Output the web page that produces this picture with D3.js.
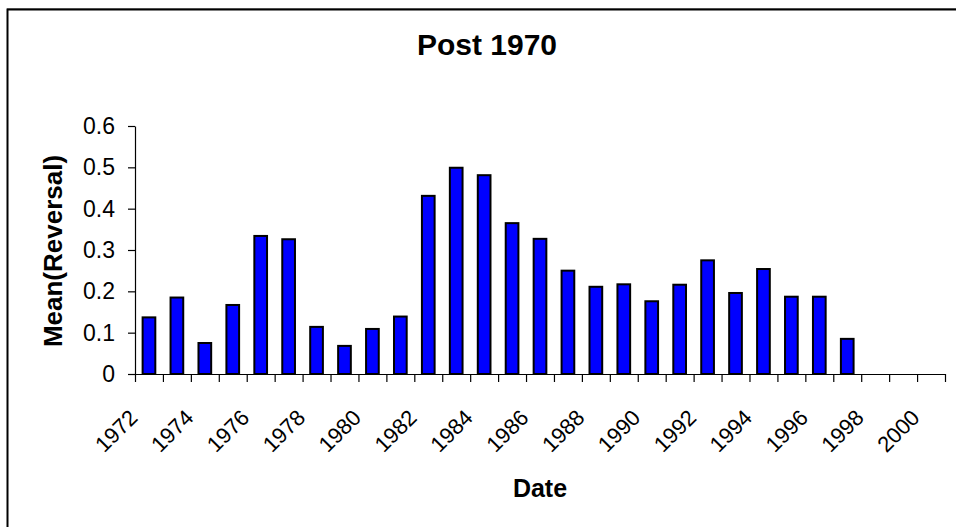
<!DOCTYPE html>
<html>
<head>
<meta charset="utf-8">
<script src="https://cdn.jsdelivr.net/npm/d3@7.9.0/dist/d3.min.js"></script>
<style>
  body { margin: 0; background: #fff; }
  svg { display: block; font-family: "Liberation Sans", Arial, sans-serif; }
</style>
</head>
<body>
<svg width="956" height="527"></svg>
<script>
// categories on the x axis (1998-2000 have no bar)
const years = d3.range(1972, 2001);
// mean reversal per year
const reversal = [
  0.137, 0.185, 0.075, 0.167, 0.334, 0.326, 0.114, 0.068, 0.109, 0.139,
  0.431, 0.499, 0.481, 0.365, 0.327, 0.250, 0.211, 0.217, 0.176, 0.216,
  0.275, 0.196, 0.254, 0.187, 0.187, 0.085, null, null, null
];
const yTicks = [0, 0.1, 0.2, 0.3, 0.4, 0.5, 0.6];
const labelYears = years.filter((y) => (y - 1972) % 2 === 0);

const svg = d3.select('svg');
const plotLeft = 135, plotRight = 945, plotTop = 126, plotBottom = 374;

// chart frame
svg.append('line').attr('x1', 7).attr('x2', 956).attr('y1', 8.5).attr('y2', 8.5)
  .attr('stroke', '#999').attr('stroke-width', 1);
svg.append('rect')
  .attr('x', 7.5).attr('y', 9.5).attr('width', 1000).attr('height', 600)
  .attr('fill', 'none').attr('stroke', '#000').attr('stroke-width', 2);

let x = d3.scaleBand().domain(years).range([plotLeft, plotRight])
  .paddingInner(0.5454).paddingOuter(0.2727);
let y = d3.scaleLinear().domain([0, 0.6]).range([plotBottom, plotTop]);
// index scale for the tick marks between categories
let xEdge = d3.scaleLinear().domain([0, years.length]).range([plotLeft, plotRight]);

// bars
const data = years.map((yr, i) => ({ year: yr, value: reversal[i] }))
  .filter((d) => d.value !== null);
svg.append('g')
  .selectAll('rect')
  .data(data)
  .join('rect')
  .attr('x', (d) => x(d.year))
  .attr('y', (d) => y(d.value))
  .attr('width', x.bandwidth())
  .attr('height', (d) => y(0) - y(d.value))
  .attr('fill', '#0000ff')
  .attr('stroke', '#000')
  .attr('stroke-width', 2);

// y axis
let yAxis = svg.append('g')
  .attr('transform', `translate(${plotLeft},0)`)
  .call(d3.axisLeft(y).tickValues(yTicks).tickFormat(d3.format('')).tickSize(7).tickSizeOuter(0).tickPadding(13));
yAxis.selectAll('text').attr('font-size', 23).attr('fill', '#000')
  .attr('font-family', '"Liberation Sans", Arial, sans-serif');

// x axis line and tick marks between categories
let xAxis = svg.append('g')
  .attr('transform', `translate(0,${plotBottom})`)
  .call(d3.axisBottom(xEdge).tickValues(d3.range(years.length + 1)).tickFormat('').tickSize(8).tickSizeOuter(0));

svg.selectAll('.domain, .tick line').attr('stroke', '#000').attr('stroke-width', 1.2);

// year labels, every other category, rotated
svg.append('g')
  .selectAll('text')
  .data(labelYears)
  .join('text')
  .attr('transform', (d) => `translate(${x(d) + x.bandwidth() / 2 - 10},419) rotate(-45)`)
  .attr('text-anchor', 'end')
  .attr('font-size', 22)
  .text((d) => d);

// titles
svg.append('text')
  .attr('x', 487).attr('y', 55)
  .attr('text-anchor', 'middle')
  .attr('font-size', 30).attr('font-weight', 'bold')
  .text('Post 1970');

svg.append('text')
  .attr('x', 540).attr('y', 497)
  .attr('text-anchor', 'middle')
  .attr('font-size', 25).attr('font-weight', 'bold')
  .text('Date');

svg.append('text')
  .attr('transform', 'translate(62,251) rotate(-90)')
  .attr('text-anchor', 'middle')
  .attr('font-size', 26).attr('font-weight', 'bold')
  .text('Mean(Reversal)');
</script>
</body>
</html>
